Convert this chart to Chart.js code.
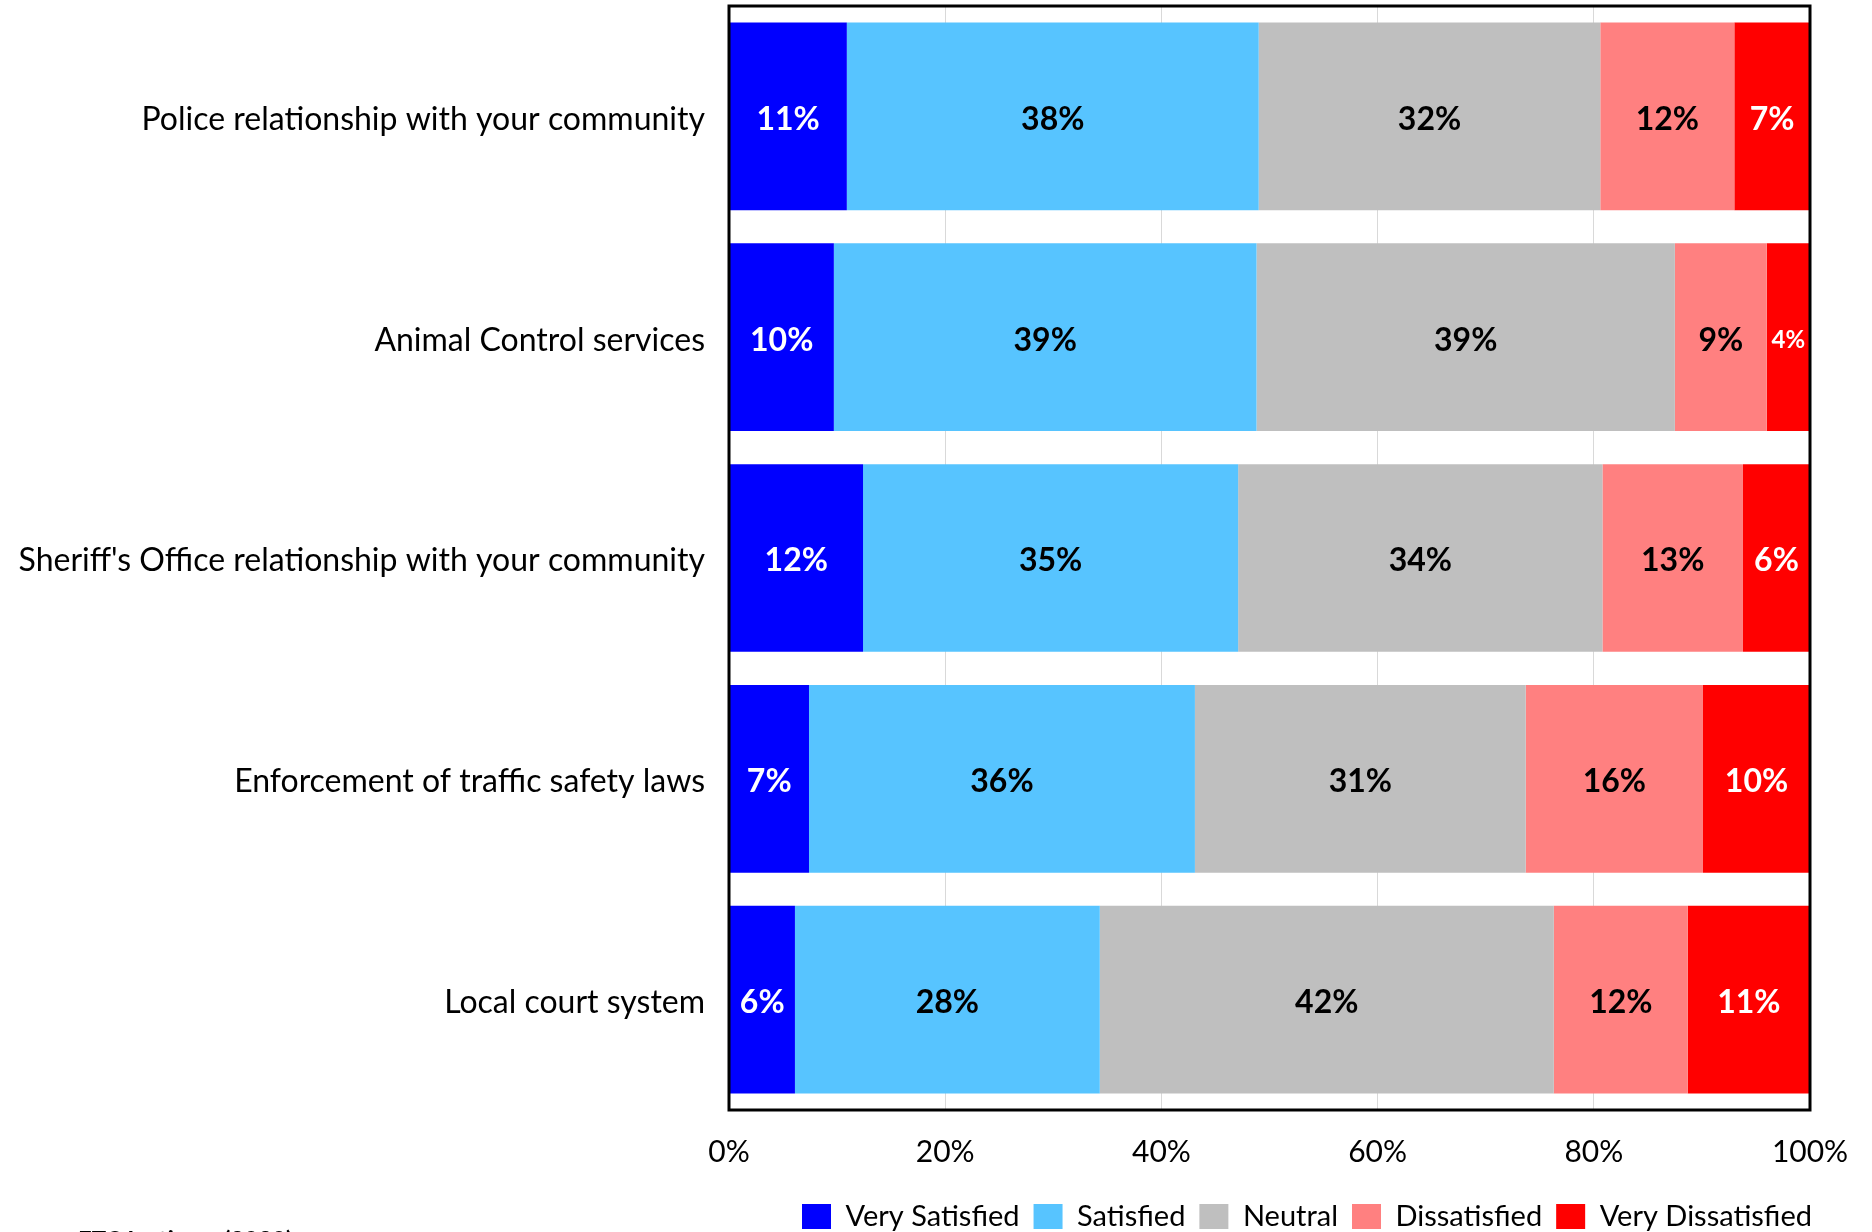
<!DOCTYPE html>
<html><head><meta charset="utf-8">
<script src="https://cdn.jsdelivr.net/npm/chart.js@4.4.1/dist/chart.umd.min.js"></script>
<style>html,body{margin:0;padding:0;background:#fff;overflow:hidden;} #wrap{width:1872px;height:1232px;position:relative;}</style>
</head><body><div id="wrap"><canvas id="c" width="1872" height="1232"></canvas></div>
<script>
const categories = ["Police relationship with your community","Animal Control services","Sheriff's Office relationship with your community","Enforcement of traffic safety laws","Local court system"];
const seriesNames = ["Very Satisfied","Satisfied","Neutral","Dissatisfied","Very Dissatisfied"];
const seriesColors = ["#0000FF","#57C4FF","#BFBFBF","#FF8080","#FF0000"];
const labelColors = ["#FFFFFF","#000000","#000000","#000000","#FFFFFF"];
const verySatisfied = [10.9, 9.7, 12.4, 7.4, 6.1];
const satisfied = [38.1, 39.1, 34.7, 35.7, 28.2];
const neutral = [31.6, 38.7, 33.7, 30.6, 42.0];
const dissatisfied = [12.4, 8.5, 13.0, 16.4, 12.4];
const veryDissatisfied = [7.0, 4.0, 6.2, 9.9, 11.3];
const xTicks = [0, 20, 40, 60, 80, 100];
const sourceNote = "ETC Institute (2020)";

const seriesValues = [verySatisfied, satisfied, neutral, dissatisfied, veryDissatisfied];
const FONT = "Lato, 'Open Sans', sans-serif";

const barLabels = {
  id: 'barLabels',
  afterDatasetsDraw(chart) {
    const ctx = chart.ctx;
    ctx.save();
    ctx.textAlign = 'center';
    ctx.textBaseline = 'middle';
    chart.data.datasets.forEach((ds, di) => {
      const meta = chart.getDatasetMeta(di);
      meta.data.forEach((bar, i) => {
        const v = ds.data[i];
        const size = v < 5 ? 24 : 32;
        ctx.font = 'bold ' + size + 'px ' + FONT;
        ctx.fillStyle = labelColors[di];
        ctx.fillText(Math.round(v) + '%', (bar.x + bar.base) / 2, bar.y + 3);
      });
    });
    const a = chart.chartArea;
    ctx.strokeStyle = '#000';
    ctx.lineWidth = 3;
    ctx.strokeRect(a.left, a.top, a.right - a.left, a.bottom - a.top);
    ctx.restore();
  },
  afterDraw(chart) {
    const ctx = chart.ctx;
    ctx.save();
    ctx.font = 'bold 24px ' + FONT;
    ctx.fillStyle = '#000';
    ctx.textBaseline = 'top';
    ctx.textAlign = 'left';
    ctx.fillText(sourceNote, 78, 1229);
    ctx.restore();
  }
};

new Chart(document.getElementById('c'), {
  type: 'bar',
  data: {
    labels: categories,
    datasets: seriesNames.map((n, i) => ({
      label: n,
      data: seriesValues[i],
      backgroundColor: seriesColors[i],
      borderWidth: 0,
      categoryPercentage: 0.85,
      barPercentage: 1.0
    }))
  },
  options: {
    indexAxis: 'y',
    responsive: false,
    animation: false,
    layout: { padding: { top: 6, right: 46, bottom: 0, left: 0 } },
    plugins: {
      legend: {
        position: 'bottom',
        align: 'end',
        maxHeight: 44,
        labels: {
          boxWidth: 29, boxHeight: 25, padding: 14,
          color: '#000',
          font: { family: FONT, size: 29 }
        }
      },
      tooltip: { enabled: false }
    },
    scales: {
      x: {
        stacked: true,
        min: 0, max: 100,
        afterBuildTicks(scale) { scale.ticks = xTicks.map(v => ({ value: v })); },
        ticks: {
          callback: v => v + '%',
          color: '#000',
          padding: 24,
          maxRotation: 0,
          font: { family: FONT, size: 30 }
        },
        grid: { color: '#D9D9D9', lineWidth: 1, drawTicks: false },
        border: { display: false },
        afterFit(scale) { scale.height = 78; scale.paddingRight = 62; scale.paddingLeft = 0; }
      },
      y: {
        stacked: true,
        ticks: {
          color: '#000',
          padding: 24,
          labelOffset: 3,
          font: { family: FONT, size: 32 }
        },
        grid: { display: false, drawTicks: false },
        border: { display: false },
        afterFit(scale) { scale.width = 729; scale.paddingTop = 0; scale.paddingBottom = 0; }
      }
    }
  },
  plugins: [barLabels]
});
</script>
</body></html>
